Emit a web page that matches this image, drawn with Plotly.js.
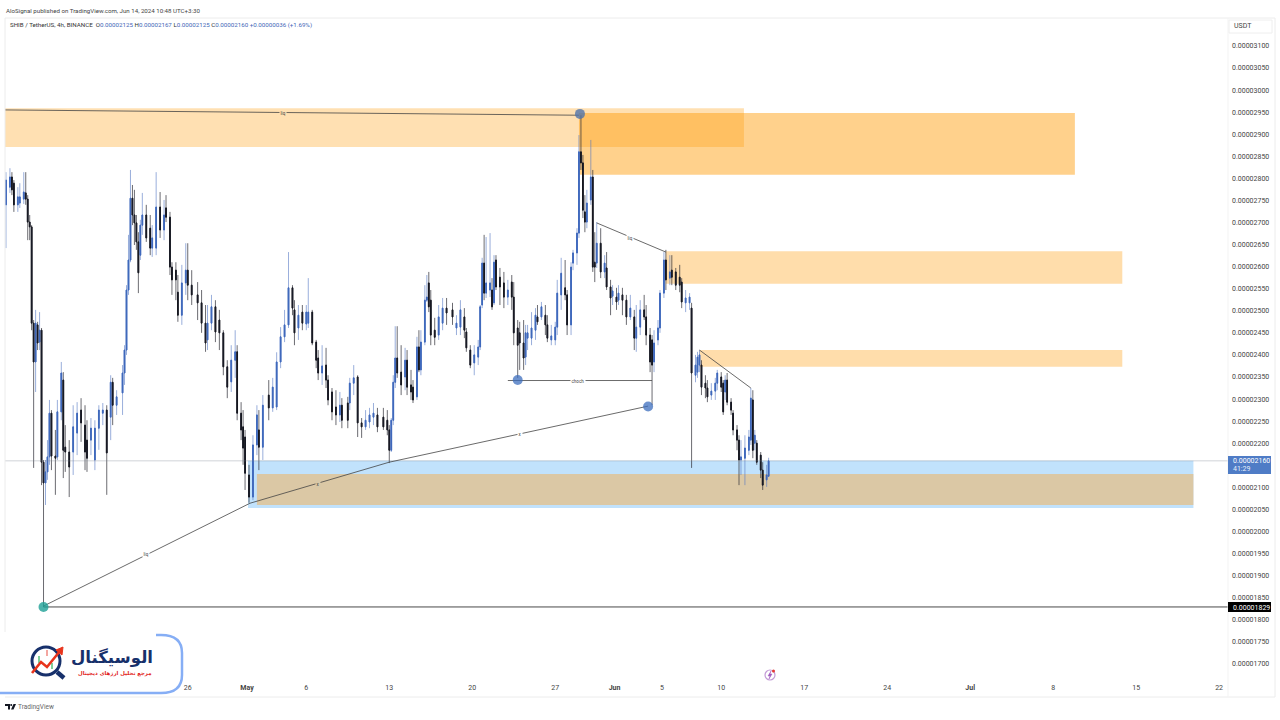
<!DOCTYPE html>
<html>
<head>
<meta charset="utf-8">
<script src="https://cdn.plot.ly/plotly-3.0.1.min.js"></script>
<style>html,body{margin:0;padding:0;background:#fff;overflow:hidden}#chart{width:1280px;height:720px}</style>
</head>
<body>
<div id="chart"></div>
<script>
// Prices are in units of 0.00000001 USDT. A slot is one 4h bar counted from the first visible bar.
const firstBarUTC = Date.UTC(2024, 3, 10, 16);
const slots = [
0,2,3,4,6,7,9,10,11,12,
13,14,15,16,17,18,19,20,21,22,
23,25,26,28,29,30,32,34,36,38,
40,41,43,45,47,49,51,53,54,56,
59,60,61,62,63,64,65,66,67,68,
69,71,73,74,76,78,80,81,83,84,
86,87,89,91,92,94,97,99,101,102,
104,106,108,110,112,114,116,117,119,120,
121,123,125,127,128,130,133,135,137,139,
141,143,145,146,148,150,152,153,155,157,
158,160,162,163,165,167,169,170,173,174,
176,178,180,182,184,186,188,191,193,194,
195,196,197,198,200,202,203,205,206,208,
209,210,212,213,214,215,217,219,221,223,
226,228,230,232,233,235,237,239,240,241,
242,243,245,246,247,248,250,252,254,256,
257,259,260,262,263,264,266,268,269,271,
273,274,276,278,279,281,283,284,286,287,
289,290,291,292,293,294,296,297,298,299,
301,303,304,306,307,309,310,312,314,316,
318,319,321,323,324,326,327,328,330,331,
333,334,336,337,339,341,342,344,346,347,
349,350,351,352,354,355,357,359,360,362,
363,364,365,367,368,370,371,372,374,376,
377,378,379,380,382,383,385,386];
const opens = [
2740,2780,2803,2789,2740,2744,2753,2767,2753,2701,
2690,2472,2384,2468,2429,2456,2157,2110,2135,2169,
2268,2171,2169,2271,2343,2191,2180,2180,2223,2275,
2241,2207,2207,2162,2234,2268,2275,2259,2338,2286,
2314,2359,2411,2547,2615,2755,2717,2699,2656,2626,
2694,2717,2687,2642,2642,2735,2683,2733,2712,2599,
2592,2542,2490,2563,2592,2558,2536,2518,2472,2434,
2472,2509,2479,2450,2373,2339,2388,2407,2268,2237,
2214,2128,2078,2196,2230,2191,2309,2280,2282,2384,
2441,2468,2552,2502,2461,2497,2470,2472,2497,2429,
2393,2359,2377,2343,2316,2282,2264,2286,2291,2291,
2336,2350,2246,2237,2248,2259,2264,2259,2252,2230,
2184,2252,2338,2393,2361,2350,2388,2332,2327,2305,
2418,2366,2429,2524,2563,2524,2456,2445,2472,2506,
2502,2461,2463,2486,2452,2411,2382,2395,2418,2513,
2608,2540,2547,2547,2518,2615,2576,2563,2531,2565,
2531,2461,2450,2427,2395,2438,2438,2456,2486,2486,
2490,2468,2434,2434,2463,2536,2552,2536,2468,2608,
2631,2676,2860,2835,2724,2701,2751,2803,2610,2608,
2653,2588,2597,2554,2533,2531,2524,2536,2524,2486,
2486,2438,2463,2502,2486,2445,2434,2384,2434,2461,
2540,2615,2574,2592,2588,2576,2565,2518,2518,2506,
2354,2361,2377,2377,2336,2325,2309,2318,2336,2350,
2336,2316,2343,2293,2268,2230,2207,2162,2166,2184,
2207,2298,2200,2200,2173,2139,2117,2125];
const highs = [
2814,2823,2814,2796,2780,2789,2814,2814,2762,2717,
2694,2479,2502,2475,2497,2461,2162,2162,2207,2298,
2275,2230,2298,2384,2361,2241,2207,2286,2293,2302,
2286,2252,2257,2252,2286,2291,2286,2354,2348,2320,
2377,2422,2558,2672,2819,2785,2774,2717,2678,2706,
2767,2740,2717,2694,2814,2769,2751,2762,2724,2610,
2610,2581,2604,2653,2653,2592,2565,2547,2513,2513,
2536,2524,2502,2456,2388,2422,2456,2422,2293,2275,
2230,2151,2218,2286,2275,2309,2343,2348,2406,2463,
2502,2633,2558,2524,2513,2513,2513,2574,2502,2434,
2411,2422,2416,2354,2325,2320,2316,2302,2305,2348,
2377,2354,2257,2275,2280,2291,2280,2280,2275,2241,
2257,2354,2465,2465,2422,2416,2411,2366,2343,2441,
2456,2456,2558,2581,2588,2547,2484,2513,2529,2529,
2518,2490,2524,2506,2461,2422,2422,2434,2513,2620,
2672,2667,2676,2574,2626,2626,2597,2588,2570,2581,
2565,2479,2475,2479,2468,2468,2497,2506,2513,2520,
2513,2490,2468,2475,2570,2620,2615,2547,2610,2638,
2687,2898,2943,2853,2762,2774,2887,2819,2678,2701,
2687,2626,2633,2570,2558,2552,2558,2552,2536,2536,
2502,2513,2524,2536,2513,2461,2445,2456,2479,2547,
2633,2638,2626,2626,2597,2604,2574,2547,2540,2518,
2400,2407,2411,2388,2354,2343,2336,2348,2366,2361,
2343,2354,2359,2302,2275,2241,2218,2207,2218,2230,
2325,2320,2230,2207,2180,2157,2151,2167];
const lows = [
2642,2767,2762,2724,2724,2733,2742,2740,2660,2660,
2456,2144,2316,2411,2411,2105,1829,2060,2117,2151,
2139,2083,2162,2252,2121,2135,2078,2128,2173,2203,
2139,2135,2173,2139,2185,2241,2083,2207,2241,2264,
2264,2332,2400,2536,2610,2694,2649,2638,2540,2615,
2672,2656,2626,2622,2626,2665,2660,2701,2581,2536,
2524,2475,2468,2536,2524,2513,2479,2450,2407,2411,
2456,2429,2411,2354,2302,2316,2348,2252,2207,2151,
2094,2065,2071,2173,2139,2162,2252,2271,2275,2370,
2429,2461,2490,2422,2434,2456,2456,2461,2422,2370,
2343,2332,2325,2286,2252,2241,2248,2234,2234,2275,
2309,2214,2212,2230,2234,2241,2225,2230,2218,2155,
2180,2241,2325,2348,2309,2320,2309,2298,2291,2298,
2361,2354,2422,2520,2497,2422,2422,2434,2456,2468,
2468,2445,2445,2438,2407,2370,2354,2377,2411,2506,
2524,2529,2531,2502,2513,2547,2513,2506,2513,2502,
2422,2348,2366,2366,2377,2411,2422,2434,2468,2479,
2445,2429,2422,2422,2445,2502,2524,2445,2445,2592,
2604,2665,2819,2710,2678,2687,2740,2588,2565,2597,
2574,2574,2547,2490,2513,2502,2513,2490,2468,2479,
2411,2407,2445,2479,2422,2361,2286,2361,2422,2450,
2529,2547,2558,2558,2547,2542,2506,2497,2502,2144,
2338,2348,2361,2309,2302,2293,2298,2298,2320,2316,
2264,2298,2286,2264,2218,2184,2105,2128,2105,2173,
2196,2166,2184,2151,2121,2094,2101,2125];
const closes = [
2796,2803,2774,2740,2758,2758,2769,2753,2701,2690,
2472,2384,2472,2427,2456,2157,2110,2135,2169,2268,
2171,2166,2271,2359,2184,2180,2146,2237,2268,2246,
2180,2166,2234,2234,2275,2275,2178,2338,2286,2305,
2359,2411,2547,2615,2755,2717,2699,2656,2586,2694,
2717,2665,2642,2665,2735,2683,2717,2712,2599,2570,
2570,2490,2563,2592,2558,2536,2518,2472,2427,2472,
2509,2452,2450,2373,2327,2388,2407,2268,2230,2189,
2132,2078,2196,2264,2191,2286,2280,2327,2384,2441,
2468,2552,2506,2450,2490,2472,2497,2497,2427,2388,
2359,2375,2343,2298,2271,2264,2286,2252,2252,2336,
2348,2246,2237,2252,2264,2268,2237,2237,2230,2184,
2252,2338,2393,2359,2332,2388,2327,2316,2298,2418,
2366,2429,2524,2531,2509,2445,2440,2486,2506,2495,
2486,2472,2502,2456,2416,2377,2400,2418,2509,2608,
2540,2563,2563,2509,2610,2554,2554,2531,2547,2531,
2450,2422,2427,2393,2450,2450,2461,2490,2475,2509,
2468,2438,2443,2463,2540,2585,2536,2468,2599,2631,
2676,2860,2835,2728,2701,2744,2803,2599,2599,2653,
2588,2608,2554,2529,2545,2520,2540,2524,2486,2506,
2438,2463,2502,2486,2445,2384,2377,2427,2461,2540,
2615,2570,2588,2576,2558,2558,2520,2529,2531,2359,
2377,2395,2400,2327,2325,2305,2318,2336,2359,2327,
2271,2343,2293,2275,2230,2207,2162,2169,2189,2214,
2302,2184,2218,2157,2139,2105,2128,2160];

const priceTicks = [3100,3050,3000,2950,2900,2850,2800,2750,2700,2650,2600,2550,2500,2450,2400,2350,2300,2250,2200,2150,2100,2050,2000,1950,1900,1850,1800,1750,1700];
const priceLabels = ["0.00003100","0.00003050","0.00003000","0.00002950","0.00002900","0.00002850","0.00002800","0.00002750","0.00002700","0.00002650","0.00002600","0.00002550","0.00002500","0.00002450","0.00002400","0.00002350","0.00002300","0.00002250","0.00002200","","0.00002100","0.00002050","0.00002000","0.00001950","0.00001900","0.00001850","0.00001800","0.00001750","0.00001700"];
const dateTicks = ["2024-04-26","2024-05-01","2024-05-06","2024-05-13","2024-05-20","2024-05-27","2024-06-01","2024-06-05","2024-06-10","2024-06-17","2024-06-24","2024-07-01","2024-07-08","2024-07-15","2024-07-22"];
const dateLabels = ["26","<b>May</b>","6","13","20","27","<b>Jun</b>","5","10","17","24","<b>Jul</b>","8","15","22"];

// zones: start slot, end slot, top price, bottom price
const zoneStart = [-0.5, 290, 334, 351, 122.5, 127];
const zoneEnd   = [373.5, 541, 565, 565, 601, 601];
const zoneTop   = [2959, 2948, 2635, 2411, 2160, 2130];
const zoneBase  = [2871, 2808, 2561, 2373, 2053, 2060];
const zoneFill  = ["rgba(255,152,0,0.3)","rgba(255,152,0,0.45)","rgba(255,152,0,0.33)","rgba(255,152,0,0.33)","rgba(33,150,243,0.28)","rgba(228,190,132,0.72)"];

// drawn trend lines: two end points each, with the label's position along them
const lineSlots = [[-0.5,290],[19,123.5],[123.5,194],[194,325],[254,327],[299,334],[351,377]];
const linePrices = [[2955,2943],[1831,2064],[2064,2157],[2157,2284],[2342,2342],[2699,2633],[2411,2325]];
const lineNames = ["liq","liq","x","x","choch","liq",""];
const labelSlots = [140,71,158,260,289.5,316,0];
const labelPrices = [2949,1948,2108,2220,2342,2666,0];
const lineLabelBg = ["#FFE0B2","#fff","#D8C8A8","#fff","#fff","#fff","#fff"];

const dotSlots = [19,290.5,259,325];
const dotPrices = [1829,2946,2343,2283];
const dotColors = ["rgba(30,160,150,0.8)","rgba(80,115,170,0.8)","rgba(60,110,190,0.75)","rgba(60,110,190,0.75)"];

const lowPrice = 1829, lastPrice = 2160, axisEndSlot = 618.5;

if (![opens,highs,lows,closes].every(a => a.length === slots.length)) throw new Error("length mismatch");

const U = 1e-8;
const toDate = s => new Date(firstBarUTC + s * 4 * 3600e3).toISOString().slice(0,19).replace("T"," ");
const W = 1280, H = 720, L = 5, R = 52, T = 19, B = 38;
const px = x => (x - L) / (W - L - R);
const py = y => 1 - (y - T) / (H - T - B);

const times = slots.map(toDate);
const scale = a => a.map(v => v * U);

const traces = [];
// wicks
traces.push({type:"candlestick", x:times, open:scale(opens), high:scale(highs), low:scale(lows), close:scale(closes),
  whiskerwidth:0,
  increasing:{line:{color:"rgba(85,120,195,0.6)",width:1},fillcolor:"rgba(0,0,0,0)"},
  decreasing:{line:{color:"rgba(50,50,58,0.72)",width:1},fillcolor:"rgba(0,0,0,0)"},
  hoverinfo:"skip"});
// bodies
traces.push({type:"candlestick", x:times, open:scale(opens),
  high:opens.map((o,i)=>Math.max(o,closes[i])*U), low:opens.map((o,i)=>Math.min(o,closes[i])*U), close:scale(closes),
  whiskerwidth:0,
  increasing:{line:{color:"#3f69bd",width:1},fillcolor:"#2a55a8"},
  decreasing:{line:{color:"#16171f",width:1},fillcolor:"#1b2a55"},
  hoverinfo:"skip"});
// price lines
traces.push({type:"scatter",mode:"lines",x:[toDate(-0.5),toDate(axisEndSlot)],y:[lastPrice*U,lastPrice*U],line:{color:"rgba(120,130,140,0.35)",width:1},hoverinfo:"skip"});
traces.push({type:"scatter",mode:"lines",x:[toDate(19),toDate(axisEndSlot)],y:[lowPrice*U,lowPrice*U],line:{color:"#333",width:0.9},hoverinfo:"skip"});
lineSlots.forEach((s,i)=>{
  traces.push({type:"scatter",mode:"lines",x:s.map(toDate),y:scale(linePrices[i]),line:{color:"#444",width:0.8},hoverinfo:"skip"});
});
traces.push({type:"scatter",mode:"markers",x:dotSlots.map(toDate),y:scale(dotPrices),marker:{size:10,color:dotColors},hoverinfo:"skip"});

const shapes = [];
zoneStart.forEach((s,i)=>{
  shapes.push({type:"rect",layer:"below",xref:"x",yref:"y",x0:toDate(s),x1:toDate(zoneEnd[i]),y0:zoneBase[i]*U,y1:zoneTop[i]*U,fillcolor:zoneFill[i],line:{width:0}});
});
const box = (x0,y0,x1,y1,fill,stroke,w) => ({type:"rect",xref:"paper",yref:"paper",x0:px(x0),x1:px(x1),y0:py(y1),y1:py(y0),fillcolor:fill||"rgba(0,0,0,0)",line:{color:stroke||"rgba(0,0,0,0)",width:w||0}});
const seg = (x0,y0,x1,y1,c,w) => ({type:"line",xref:"paper",yref:"paper",x0:px(x0),x1:px(x1),y0:py(y0),y1:py(y1),line:{color:c,width:w}});
const circ = (cx,cy,r,fill,stroke,w) => ({type:"circle",xref:"paper",yref:"paper",x0:px(cx-r),x1:px(cx+r),y0:py(cy+r),y1:py(cy-r),fillcolor:fill||"rgba(0,0,0,0)",line:{color:stroke||"rgba(0,0,0,0)",width:w||0}});
const poly = (pts,fill,stroke,w) => ({type:"path",xref:"paper",yref:"paper",path:pts.map((p,i)=>(i?"L":"M")+px(p[0])+","+py(p[1])).join(" ")+(fill?" Z":""),fillcolor:fill||"rgba(0,0,0,0)",line:{color:stroke||"rgba(0,0,0,0)",width:w||0}});

// frame
shapes.push(seg(5,18,1275,18,"#ececec",1), seg(5,18,5,632,"#ececec",1), seg(1275,18,1275,697,"#ececec",1), seg(5,697,1275,697,"#ececec",1), seg(1228,18,1228,697,"#f3f3f3",1));
// USDT box and price tags
shapes.push(box(1229,20,1272,33,"#fff","#eeeeee",1));
shapes.push(box(1228,456,1271,474,"#4f7cc6"));
shapes.push(box(1228,602,1271,612,"#000"));
// logo panel: white area, then the blue edge on its right and bottom only
{
  const xr = 182, yt = 635, yb = 693, r = 18, xl = -6;
  const qr = "L"+px(xr-r-3)+","+py(yt)+" Q"+px(xr)+","+py(yt)+" "+px(xr)+","+py(yt+r)+" L"+px(xr)+","+py(yb-r)+" Q"+px(xr)+","+py(yb)+" "+px(xr-r-3)+","+py(yb)+" L"+px(xl)+","+py(yb);
  shapes.push({type:"path",xref:"paper",yref:"paper",path:"M"+px(xl)+","+py(yt)+" "+qr+" Z",fillcolor:"#fff",line:{width:0}});
  shapes.push({type:"path",xref:"paper",yref:"paper",path:"M"+px(xr-r-8)+","+py(yt)+" "+qr,fillcolor:"rgba(0,0,0,0)",line:{color:"#86aef5",width:2.5}});
}
shapes.push(circ(46,661,14,"#fff","#17306b",3));
shapes.push(seg(57,672,64,678,"#17306b",4.5));
shapes.push(seg(39,656,39,663,"#7fcf9a",2), seg(47,650,47,656,"#f3a6a0",2), seg(52,663,52,669,"#7fcf9a",2));
shapes.push(poly([[32,673],[41,662],[47,667],[60,651]],null,"#e8341c",2.6));
shapes.push(poly([[63,647],[62,655],[56,650]],"#e8341c","#e8341c",1));
// event icon
shapes.push(circ(770,675,5,"#fff","#c39ad6",1.2), poly([[771,671],[768,676],[770,676],[769,679],[772,674],[770,674]],"#a25fc0","#a25fc0",0.5), circ(773.5,671,1.5,"#e53935"));
// TV logo
shapes.push(poly([[5,704],[10,704],[10,709.5],[8,709.5],[8,706],[5,706]],"#131722"), circ(11.2,705.1,1,"#131722"), poly([[13.5,704],[16,704],[13.5,709.5],[11,709.5]],"#131722"));

const ann = (text,x,y,size,color,anchor,extra) => Object.assign({text:text,xref:"paper",yref:"paper",x:px(x),y:py(y),xanchor:anchor||"left",yanchor:"middle",showarrow:false,borderpad:0,font:{family:"Roboto, sans-serif",size:size,color:color}},extra||{});
const BL = "#4468b8";
const s = t => '<span style="color:'+BL+'">'+t+'</span>';
const annotations = [
  ann("AloSignal published on TradingView.com, Jun 14, 2024 10:48 UTC+3:30",5,11,6.15,"#444"),
  ann("SHIB / TetherUS, 4h, BINANCE  O"+s("0.00002125")+" H"+s("0.00002167")+" L"+s("0.00002125")+" C"+s("0.00002160")+" "+s("+0.00000036 (+1.69%)"),9,25,6.2,"#333"),
  ann("USDT",1233,26.5,7,"#444"),
  ann("0.00002160",1232,461,7,"#fff"),
  ann("41:29",1232,469,7,"#e6eefb"),
  ann("0.00001829",1232,607.5,7,"#fff"),
  ann("TradingView",17,707,6.5,"#666"),
  ann("الوسیگنال",154,657,16.5,"#17306b","right",{font:{family:"'DejaVu Sans', sans-serif",size:16.5,color:"#17306b",weight:700}}),
  ann("مرجع تحلیل ارزهای دیجیتال",153,673,5.4,"#e2261c","right",{font:{family:"'DejaVu Sans', sans-serif",size:5.4,color:"#e2261c",weight:700}})
];
lineNames.forEach((name,i)=>{
  if(!name) return;
  annotations.push({text:name,xref:"x",yref:"y",x:toDate(labelSlots[i]),y:labelPrices[i]*U,showarrow:false,font:{family:"Roboto, sans-serif",size:4.5,color:"#444"},bgcolor:lineLabelBg[i],borderpad:0.5,xanchor:"center",yanchor:"middle"});
});

const layout = {
  width:W,height:H,paper_bgcolor:"#fff",plot_bgcolor:"#fff",showlegend:false,hovermode:false,
  margin:{l:L,r:R,t:T,b:B,pad:0},
  boxgap:0.45,
  xaxis:{type:"date",range:["2024-04-10 14:00","2024-07-22 18:00"],rangeslider:{visible:false},showgrid:false,zeroline:false,showline:false,ticks:"",
    tickmode:"array",tickvals:dateTicks,ticktext:dateLabels,tickfont:{family:"Roboto, sans-serif",size:7,color:"#444"},tickangle:0,fixedrange:true},
  yaxis:{side:"right",range:[1659*U,3161*U],showgrid:false,zeroline:false,showline:false,ticks:"",
    tickmode:"array",tickvals:scale(priceTicks),ticktext:priceLabels,tickfont:{family:"Roboto, sans-serif",size:7,color:"#444"},ticklabelstandoff:3,fixedrange:true},
  shapes:shapes,annotations:annotations
};
Plotly.newPlot("chart",traces,layout,{displayModeBar:false,staticPlot:true});
</script>
</body>
</html>
